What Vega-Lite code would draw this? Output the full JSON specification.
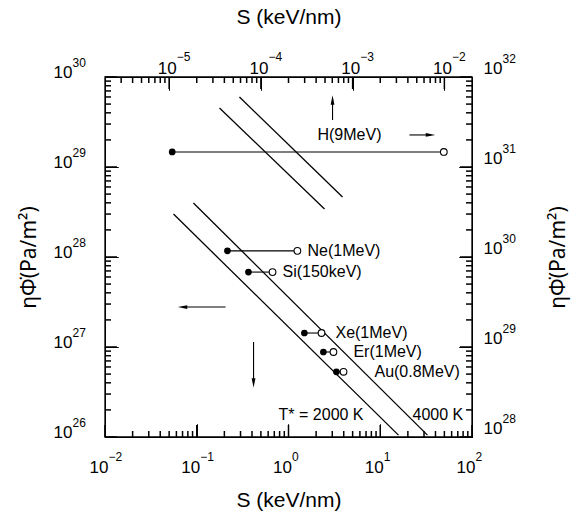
{
  "$schema": "https://vega.github.io/schema/vega-lite/v6.json",
  "width": 367,
  "height": 360,
  "autosize": {"type": "none"},
  "padding": {"left": 105, "top": 77, "right": 106, "bottom": 85},
  "background": "white",
  "config": {
    "view": {"stroke": "black", "strokeWidth": 1},
    "font": "Liberation Sans",
    "axis": {
      "domain": true, "ticks": true, "zindex": 1, "domainOpacity": 1, "tickOpacity": 1,
      "domainColor": "black", "tickColor": "black", "labelColor": "black", "titleColor": "black",
      "labelFont": "Liberation Sans", "titleFont": "Liberation Sans", "titleFontWeight": "normal",
      "grid": false, "domainWidth": 1, "tickWidth": 1, "labelFontSize": 17, "titleFontSize": 21,
      "labelOverlap": false, "labelFlush": false, "labelBound": false
    }
  },
  "datasets": {
    "anchor": [{"s": 1, "phi": 1e28, "s_top": 1e-4, "phi_right": 1e30}],
    "frame": [{"x": 0.01, "x2": 100, "y": 1e26, "y2": 1e30}],
    "ticks_s": [
      {"v": 0.01, "kind": "major"}, {"v": 0.02, "kind": "minor"}, {"v": 0.03, "kind": "minor"}, {"v": 0.04, "kind": "minor"}, {"v": 0.05, "kind": "minor"}, {"v": 0.06, "kind": "minor"}, {"v": 0.07, "kind": "minor"}, {"v": 0.08, "kind": "minor"}, {"v": 0.09, "kind": "minor"},
      {"v": 0.1, "kind": "major"}, {"v": 0.2, "kind": "minor"}, {"v": 0.3, "kind": "minor"}, {"v": 0.4, "kind": "minor"}, {"v": 0.5, "kind": "minor"}, {"v": 0.6, "kind": "minor"}, {"v": 0.7, "kind": "minor"}, {"v": 0.8, "kind": "minor"}, {"v": 0.9, "kind": "minor"},
      {"v": 1, "kind": "major"}, {"v": 2, "kind": "minor"}, {"v": 3, "kind": "minor"}, {"v": 4, "kind": "minor"}, {"v": 5, "kind": "minor"}, {"v": 6, "kind": "minor"}, {"v": 7, "kind": "minor"}, {"v": 8, "kind": "minor"}, {"v": 9, "kind": "minor"},
      {"v": 10, "kind": "major"}, {"v": 20, "kind": "minor"}, {"v": 30, "kind": "minor"}, {"v": 40, "kind": "minor"}, {"v": 50, "kind": "minor"}, {"v": 60, "kind": "minor"}, {"v": 70, "kind": "minor"}, {"v": 80, "kind": "minor"}, {"v": 90, "kind": "minor"},
      {"v": 100, "kind": "major"}
    ],
    "ticks_s_top": [
      {"v": 3e-6, "kind": "minor"}, {"v": 4e-6, "kind": "minor"}, {"v": 5e-6, "kind": "minor"}, {"v": 6e-6, "kind": "minor"}, {"v": 7e-6, "kind": "minor"}, {"v": 8e-6, "kind": "minor"}, {"v": 9e-6, "kind": "minor"},
      {"v": 1e-5, "kind": "major"}, {"v": 2e-5, "kind": "minor"}, {"v": 3e-5, "kind": "minor"}, {"v": 4e-5, "kind": "minor"}, {"v": 5e-5, "kind": "minor"}, {"v": 6e-5, "kind": "minor"}, {"v": 7e-5, "kind": "minor"}, {"v": 8e-5, "kind": "minor"}, {"v": 9e-5, "kind": "minor"},
      {"v": 1e-4, "kind": "major"}, {"v": 2e-4, "kind": "minor"}, {"v": 3e-4, "kind": "minor"}, {"v": 4e-4, "kind": "minor"}, {"v": 5e-4, "kind": "minor"}, {"v": 6e-4, "kind": "minor"}, {"v": 7e-4, "kind": "minor"}, {"v": 8e-4, "kind": "minor"}, {"v": 9e-4, "kind": "minor"},
      {"v": 1e-3, "kind": "major"}, {"v": 2e-3, "kind": "minor"}, {"v": 3e-3, "kind": "minor"}, {"v": 4e-3, "kind": "minor"}, {"v": 5e-3, "kind": "minor"}, {"v": 6e-3, "kind": "minor"}, {"v": 7e-3, "kind": "minor"}, {"v": 8e-3, "kind": "minor"}, {"v": 9e-3, "kind": "minor"},
      {"v": 1e-2, "kind": "major"}
    ],
    "ticks_phi": [
      {"v": 1e26, "kind": "major"}, {"v": 2e26, "kind": "minor"}, {"v": 3e26, "kind": "minor"}, {"v": 4e26, "kind": "minor"}, {"v": 5e26, "kind": "minor"}, {"v": 6e26, "kind": "minor"}, {"v": 7e26, "kind": "minor"}, {"v": 8e26, "kind": "minor"}, {"v": 9e26, "kind": "minor"},
      {"v": 1e27, "kind": "major"}, {"v": 2e27, "kind": "minor"}, {"v": 3e27, "kind": "minor"}, {"v": 4e27, "kind": "minor"}, {"v": 5e27, "kind": "minor"}, {"v": 6e27, "kind": "minor"}, {"v": 7e27, "kind": "minor"}, {"v": 8e27, "kind": "minor"}, {"v": 9e27, "kind": "minor"},
      {"v": 1e28, "kind": "major"}, {"v": 2e28, "kind": "minor"}, {"v": 3e28, "kind": "minor"}, {"v": 4e28, "kind": "minor"}, {"v": 5e28, "kind": "minor"}, {"v": 6e28, "kind": "minor"}, {"v": 7e28, "kind": "minor"}, {"v": 8e28, "kind": "minor"}, {"v": 9e28, "kind": "minor"},
      {"v": 1e29, "kind": "major"}, {"v": 2e29, "kind": "minor"}, {"v": 3e29, "kind": "minor"}, {"v": 4e29, "kind": "minor"}, {"v": 5e29, "kind": "minor"}, {"v": 6e29, "kind": "minor"}, {"v": 7e29, "kind": "minor"}, {"v": 8e29, "kind": "minor"}, {"v": 9e29, "kind": "minor"},
      {"v": 1e30, "kind": "major"}
    ],
    "ticks_phi_right": [
      {"v": 1e28, "kind": "major"}, {"v": 2e28, "kind": "minor"}, {"v": 3e28, "kind": "minor"}, {"v": 4e28, "kind": "minor"}, {"v": 5e28, "kind": "minor"}, {"v": 6e28, "kind": "minor"}, {"v": 7e28, "kind": "minor"}, {"v": 8e28, "kind": "minor"}, {"v": 9e28, "kind": "minor"},
      {"v": 1e29, "kind": "major"}, {"v": 2e29, "kind": "minor"}, {"v": 3e29, "kind": "minor"}, {"v": 4e29, "kind": "minor"}, {"v": 5e29, "kind": "minor"}, {"v": 6e29, "kind": "minor"}, {"v": 7e29, "kind": "minor"}, {"v": 8e29, "kind": "minor"}, {"v": 9e29, "kind": "minor"},
      {"v": 1e30, "kind": "major"}, {"v": 2e30, "kind": "minor"}, {"v": 3e30, "kind": "minor"}, {"v": 4e30, "kind": "minor"}, {"v": 5e30, "kind": "minor"}, {"v": 6e30, "kind": "minor"}, {"v": 7e30, "kind": "minor"}, {"v": 8e30, "kind": "minor"}, {"v": 9e30, "kind": "minor"},
      {"v": 1e31, "kind": "major"}, {"v": 2e31, "kind": "minor"}, {"v": 3e31, "kind": "minor"}, {"v": 4e31, "kind": "minor"}, {"v": 5e31, "kind": "minor"}, {"v": 6e31, "kind": "minor"}, {"v": 7e31, "kind": "minor"}, {"v": 8e31, "kind": "minor"}, {"v": 9e31, "kind": "minor"},
      {"v": 1e32, "kind": "major"}
    ],
    "tlines": [
      {"temp": "2000 K (H)", "x": 0.177, "y": 4.53e29, "x2": 2.47, "y2": 3.41e28},
      {"temp": "4000 K (H)", "x": 0.292, "y": 6.0e29, "x2": 3.88, "y2": 4.64e28},
      {"temp": "2000 K", "x": 0.0558, "y": 3.0e28, "x2": 15.8, "y2": 1.05e26},
      {"temp": "4000 K", "x": 0.092, "y": 3.98e28, "x2": 32.7, "y2": 1.05e26}
    ],
    "ions": [
      {"ion": "H(9MeV)", "x": 0.054, "x2": 49.3, "y": 1.47e29},
      {"ion": "Ne(1MeV)", "x": 0.216, "x2": 1.25, "y": 1.17e28},
      {"ion": "Si(150keV)", "x": 0.366, "x2": 0.67, "y": 6.8e27},
      {"ion": "Xe(1MeV)", "x": 1.49, "x2": 2.29, "y": 1.43e27},
      {"ion": "Er(1MeV)", "x": 2.4, "x2": 3.09, "y": 8.8e26},
      {"ion": "Au(0.8MeV)", "x": 3.33, "x2": 3.98, "y": 5.3e26}
    ],
    "labels": [
      {"label": "H(9MeV)", "x": 2.07, "y": 2.27e29},
      {"label": "Ne(1MeV)", "x": 1.61, "y": 1.17e28},
      {"label": "Si(150keV)", "x": 0.86, "y": 6.8e27},
      {"label": "Xe(1MeV)", "x": 3.25, "y": 1.43e27},
      {"label": "Er(1MeV)", "x": 5.1, "y": 8.8e26},
      {"label": "Au(0.8MeV)", "x": 8.65, "y": 5.3e26},
      {"label": "T* = 2000 K", "x": 0.78, "y": 1.75e26},
      {"label": "4000 K", "x": 22.5, "y": 1.75e26}
    ],
    "arrows": [
      {"dir": "up", "x": 3.02, "y": 3.33e29, "x2": 3.02, "y2": 5.55e29},
      {"dir": "right", "x": 20.8, "y": 2.27e29, "x2": 35.3, "y2": 2.27e29},
      {"dir": "left", "x": 0.206, "y": 2.78e27, "x2": 0.07, "y2": 2.78e27},
      {"dir": "down", "x": 0.416, "y": 1.14e27, "x2": 0.416, "y2": 3.98e26}
    ]
  },
  "resolve": {"scale": {"x": "independent", "y": "independent"}, "axis": {"x": "independent", "y": "independent"}},
  "layer": [
    {
      "data": {"name": "anchor"},
      "mark": {"type": "point", "opacity": 0},
      "encoding": {
        "x": {"field": "s", "type": "quantitative", "scale": {"type": "log", "domain": [0.01, 100], "nice": false},
          "axis": {"orient": "bottom", "zindex": 1, "values": [0.01, 0.1, 1, 10, 100], "labelExpr": "'10'", "labelAlign": "right", "labelOffset": 3, "labelBaseline": "top", "tickSize": -13, "labelPadding": 35,
            "title": "S (keV/nm)", "titleX": 183.5, "titleY": 63, "titleAlign": "center", "titleBaseline": "middle"}},
        "y": {"field": "phi", "type": "quantitative", "scale": {"type": "log", "domain": [1e26, 1e30], "nice": false},
          "axis": {"orient": "left", "zindex": 1, "values": [1e26, 1e27, 1e28, 1e29, 1e30], "labelExpr": "'10'", "labelAlign": "right", "labelBaseline": "alphabetic", "tickSize": -13, "labelPadding": 46,
            "title": "η\u03a6\u0307(Pa/m\u00b2)", "titleFont": "Noto Sans", "titleX": -76, "titleY": 180, "titleAngle": -90, "titleAlign": "center", "titleBaseline": "middle"}}
      }
    },
    {
      "data": {"name": "anchor"},
      "mark": {"type": "point", "opacity": 0},
      "encoding": {
        "x": {"field": "s", "type": "quantitative", "scale": {"type": "log", "domain": [0.01, 100], "nice": false},
          "axis": {"orient": "bottom", "zindex": 1, "domain": false, "values": [0.01, 0.1, 1, 10, 100], "labelExpr": "format(round(log(datum.value)/LN10),'d')", "labelAlign": "left", "labelOffset": 3, "labelBaseline": "top", "labelFontSize": 12, "tickSize": -13, "labelPadding": 27, "title": null}},
        "y": {"field": "phi", "type": "quantitative", "scale": {"type": "log", "domain": [1e26, 1e30], "nice": false},
          "axis": {"orient": "left", "zindex": 1, "domain": false, "values": [1e26, 1e27, 1e28, 1e29, 1e30], "labelExpr": "format(round(log(datum.value)/LN10),'d')", "labelAlign": "left", "labelBaseline": "alphabetic", "labelOffset": -11, "labelFontSize": 12, "tickSize": -13, "labelPadding": 46, "title": null}}
      }
    },
    {
      "data": {"name": "anchor"},
      "mark": {"type": "point", "opacity": 0},
      "encoding": {
        "x": {"field": "s_top", "type": "quantitative", "scale": {"type": "log", "domain": [2e-6, 2e-2], "nice": false},
          "axis": {"orient": "top", "zindex": 1, "values": [1e-5, 1e-4, 1e-3, 1e-2], "labelExpr": "'10'", "labelAlign": "right", "labelOffset": 7, "labelBaseline": "alphabetic", "tickSize": -13, "labelPadding": 17,
            "title": "S (keV/nm)", "titleX": 183.5, "titleY": -60, "titleAlign": "center", "titleBaseline": "middle"}},
        "y": {"field": "phi_right", "type": "quantitative", "scale": {"type": "log", "domain": [1e28, 1e32], "nice": false},
          "axis": {"orient": "right", "zindex": 1, "values": [1e28, 1e29, 1e30, 1e31, 1e32], "labelExpr": "'10'", "labelAlign": "left", "labelBaseline": "alphabetic", "labelOffset": -4, "tickSize": -13, "labelPadding": 24,
            "title": "η\u03a6\u0307(Pa/m\u00b2)", "titleFont": "Noto Sans", "titleX": 86, "titleY": 180, "titleAngle": -90, "titleAlign": "center", "titleBaseline": "middle"}}
      }
    },
    {
      "data": {"name": "anchor"},
      "mark": {"type": "point", "opacity": 0},
      "encoding": {
        "x": {"field": "s_top", "type": "quantitative", "scale": {"type": "log", "domain": [2e-6, 2e-2], "nice": false},
          "axis": {"orient": "top", "zindex": 1, "domain": false, "values": [1e-5, 1e-4, 1e-3, 1e-2], "labelExpr": "format(round(log(datum.value)/LN10),'d')", "labelAlign": "left", "labelOffset": 7, "labelBaseline": "alphabetic", "labelFontSize": 12, "tickSize": -13, "labelPadding": 30, "title": null}},
        "y": {"field": "phi_right", "type": "quantitative", "scale": {"type": "log", "domain": [1e28, 1e32], "nice": false},
          "axis": {"orient": "right", "zindex": 1, "domain": false, "values": [1e28, 1e29, 1e30, 1e31, 1e32], "labelExpr": "format(round(log(datum.value)/LN10),'d')", "labelAlign": "left", "labelBaseline": "alphabetic", "labelOffset": -15, "labelFontSize": 12, "tickSize": -13, "labelPadding": 43, "title": null}}
      }
    },
    {
      "data": {"name": "ticks_s"},
      "mark": {"type": "point", "shape": "M0,0L0,-2", "filled": false, "fill": null, "stroke": "black", "strokeWidth": 1.5, "opacity": 1},
      "encoding": {
        "x": {"field": "v", "type": "quantitative", "scale": {"type": "log", "domain": [0.01, 100], "nice": false}, "axis": null},
        "y": {"datum": 1e26, "type": "quantitative", "scale": {"type": "log", "domain": [1e26, 1e30], "nice": false}, "axis": null},
        "size": {"field": "kind", "type": "nominal", "legend": null, "scale": {"type": "ordinal", "domain": ["major", "minor"], "range": [144, 36]}}
      }
    },
    {
      "data": {"name": "ticks_s_top"},
      "mark": {"type": "point", "shape": "M0,0L0,2", "filled": false, "fill": null, "stroke": "black", "strokeWidth": 1.5, "opacity": 1},
      "encoding": {
        "x": {"field": "v", "type": "quantitative", "scale": {"type": "log", "domain": [2e-6, 2e-2], "nice": false}, "axis": null},
        "y": {"datum": 1e30, "type": "quantitative", "scale": {"type": "log", "domain": [1e26, 1e30], "nice": false}, "axis": null},
        "size": {"field": "kind", "type": "nominal", "legend": null, "scale": {"type": "ordinal", "domain": ["major", "minor"], "range": [144, 36]}}
      }
    },
    {
      "data": {"name": "ticks_phi"},
      "mark": {"type": "point", "shape": "M0,0L2,0", "filled": false, "fill": null, "stroke": "black", "strokeWidth": 1.5, "opacity": 1},
      "encoding": {
        "y": {"field": "v", "type": "quantitative", "scale": {"type": "log", "domain": [1e26, 1e30], "nice": false}, "axis": null},
        "x": {"datum": 0.01, "type": "quantitative", "scale": {"type": "log", "domain": [0.01, 100], "nice": false}, "axis": null},
        "size": {"field": "kind", "type": "nominal", "legend": null, "scale": {"type": "ordinal", "domain": ["major", "minor"], "range": [144, 36]}}
      }
    },
    {
      "data": {"name": "ticks_phi_right"},
      "mark": {"type": "point", "shape": "M0,0L-2,0", "filled": false, "fill": null, "stroke": "black", "strokeWidth": 1.5, "opacity": 1},
      "encoding": {
        "y": {"field": "v", "type": "quantitative", "scale": {"type": "log", "domain": [1e28, 1e32], "nice": false}, "axis": null},
        "x": {"datum": 100, "type": "quantitative", "scale": {"type": "log", "domain": [0.01, 100], "nice": false}, "axis": null},
        "size": {"field": "kind", "type": "nominal", "legend": null, "scale": {"type": "ordinal", "domain": ["major", "minor"], "range": [144, 36]}}
      }
    },
    {
      "encoding": {
        "x": {"field": "x", "type": "quantitative", "scale": {"type": "log", "domain": [0.01, 100], "nice": false}, "axis": null},
        "y": {"field": "y", "type": "quantitative", "scale": {"type": "log", "domain": [1e26, 1e30], "nice": false}, "axis": null}
      },
      "layer": [
        {
          "data": {"name": "frame"},
          "mark": {"type": "rect", "fill": null, "fillOpacity": 0, "stroke": "black", "strokeWidth": 1.3},
          "encoding": {"x2": {"field": "x2"}, "y2": {"field": "y2"}}
        },
        {
          "data": {"name": "tlines"},
          "mark": {"type": "rule", "color": "black", "strokeWidth": 1.3},
          "encoding": {"x2": {"field": "x2"}, "y2": {"field": "y2"}}
        },
        {
          "data": {"name": "ions"},
          "mark": {"type": "rule", "color": "black", "strokeWidth": 1.1},
          "encoding": {"x2": {"field": "x2"}}
        },
        {
          "data": {"name": "ions"},
          "mark": {"type": "point", "filled": true, "fill": "white", "stroke": "black", "strokeWidth": 1.1, "size": 45, "opacity": 1},
          "encoding": {"x": {"field": "x2", "type": "quantitative", "scale": {"type": "log", "domain": [0.01, 100], "nice": false}, "axis": null}}
        },
        {
          "data": {"name": "ions"},
          "mark": {"type": "point", "filled": true, "color": "black", "size": 45, "opacity": 1}
        },
        {
          "data": {"name": "arrows"},
          "mark": {"type": "rule", "color": "black", "strokeWidth": 1.1},
          "encoding": {"x2": {"field": "x2"}, "y2": {"field": "y2"}}
        },
        {
          "data": {"name": "arrows"},
          "mark": {"type": "point", "filled": true, "fill": "black", "strokeWidth": 0, "size": 90, "opacity": 1},
          "encoding": {
            "x": {"field": "x2", "type": "quantitative", "scale": {"type": "log", "domain": [0.01, 100], "nice": false}, "axis": null},
            "y": {"field": "y2", "type": "quantitative", "scale": {"type": "log", "domain": [1e26, 1e30], "nice": false}, "axis": null},
            "shape": {"field": "dir", "type": "nominal", "legend": null,
              "scale": {"domain": ["up", "down", "left", "right"], "range": ["M0,-1L-0.4,1L0.4,1Z", "M0,1L-0.4,-1L0.4,-1Z", "M-1,0L1,-0.4L1,0.4Z", "M1,0L-1,-0.4L-1,0.4Z"]}}
          }
        },
        {
          "data": {"name": "labels"},
          "mark": {"type": "text", "align": "left", "baseline": "middle", "fontSize": 16, "font": "Liberation Sans", "color": "black"},
          "encoding": {"text": {"field": "label"}}
        }
      ]
    }
  ]
}
